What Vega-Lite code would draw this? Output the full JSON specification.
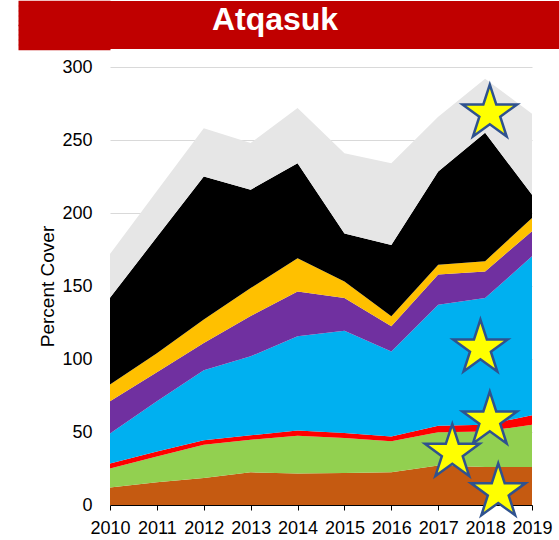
{
  "$schema": "https://vega.github.io/schema/vega-lite/v6.json",
  "padding": {"left": 15, "top": 0, "right": 0, "bottom": 0},
  "background": "white",
  "config": {"view": {"stroke": null}, "font": "Liberation Sans"},
  "spacing": 8,
  "datasets": {
    "areas": [
      {"year": 2010, "series": "Layer 1", "k": 1, "value": 12},
      {"year": 2010, "series": "Layer 2", "k": 2, "value": 13},
      {"year": 2010, "series": "Layer 3", "k": 3, "value": 3.5},
      {"year": 2010, "series": "Layer 4", "k": 4, "value": 20.5},
      {"year": 2010, "series": "Layer 5", "k": 5, "value": 22},
      {"year": 2010, "series": "Layer 6", "k": 6, "value": 11.5},
      {"year": 2010, "series": "Layer 7", "k": 7, "value": 59.5},
      {"year": 2010, "series": "Layer 8", "k": 8, "value": 30},
      {"year": 2011, "series": "Layer 1", "k": 1, "value": 15.5},
      {"year": 2011, "series": "Layer 2", "k": 2, "value": 17.8},
      {"year": 2011, "series": "Layer 3", "k": 3, "value": 3.4},
      {"year": 2011, "series": "Layer 4", "k": 4, "value": 34.3},
      {"year": 2011, "series": "Layer 5", "k": 5, "value": 20},
      {"year": 2011, "series": "Layer 6", "k": 6, "value": 13},
      {"year": 2011, "series": "Layer 7", "k": 7, "value": 79.5},
      {"year": 2011, "series": "Layer 8", "k": 8, "value": 31.5},
      {"year": 2012, "series": "Layer 1", "k": 1, "value": 18.5},
      {"year": 2012, "series": "Layer 2", "k": 2, "value": 22.8},
      {"year": 2012, "series": "Layer 3", "k": 3, "value": 3},
      {"year": 2012, "series": "Layer 4", "k": 4, "value": 48},
      {"year": 2012, "series": "Layer 5", "k": 5, "value": 18.7},
      {"year": 2012, "series": "Layer 6", "k": 6, "value": 16},
      {"year": 2012, "series": "Layer 7", "k": 7, "value": 98},
      {"year": 2012, "series": "Layer 8", "k": 8, "value": 33},
      {"year": 2013, "series": "Layer 1", "k": 1, "value": 22.4},
      {"year": 2013, "series": "Layer 2", "k": 2, "value": 22.3},
      {"year": 2013, "series": "Layer 3", "k": 3, "value": 3},
      {"year": 2013, "series": "Layer 4", "k": 4, "value": 54.1},
      {"year": 2013, "series": "Layer 5", "k": 5, "value": 27.7},
      {"year": 2013, "series": "Layer 6", "k": 6, "value": 19.1},
      {"year": 2013, "series": "Layer 7", "k": 7, "value": 67.4},
      {"year": 2013, "series": "Layer 8", "k": 8, "value": 32},
      {"year": 2014, "series": "Layer 1", "k": 1, "value": 21.5},
      {"year": 2014, "series": "Layer 2", "k": 2, "value": 26},
      {"year": 2014, "series": "Layer 3", "k": 3, "value": 3.6},
      {"year": 2014, "series": "Layer 4", "k": 4, "value": 64.4},
      {"year": 2014, "series": "Layer 5", "k": 5, "value": 30.8},
      {"year": 2014, "series": "Layer 6", "k": 6, "value": 22.7},
      {"year": 2014, "series": "Layer 7", "k": 7, "value": 65},
      {"year": 2014, "series": "Layer 8", "k": 8, "value": 38},
      {"year": 2015, "series": "Layer 1", "k": 1, "value": 21.9},
      {"year": 2015, "series": "Layer 2", "k": 2, "value": 24},
      {"year": 2015, "series": "Layer 3", "k": 3, "value": 3.4},
      {"year": 2015, "series": "Layer 4", "k": 4, "value": 70.1},
      {"year": 2015, "series": "Layer 5", "k": 5, "value": 22.4},
      {"year": 2015, "series": "Layer 6", "k": 6, "value": 11.2},
      {"year": 2015, "series": "Layer 7", "k": 7, "value": 33},
      {"year": 2015, "series": "Layer 8", "k": 8, "value": 55},
      {"year": 2016, "series": "Layer 1", "k": 1, "value": 22.4},
      {"year": 2016, "series": "Layer 2", "k": 2, "value": 21.2},
      {"year": 2016, "series": "Layer 3", "k": 3, "value": 3.4},
      {"year": 2016, "series": "Layer 4", "k": 4, "value": 58.2},
      {"year": 2016, "series": "Layer 5", "k": 5, "value": 17.2},
      {"year": 2016, "series": "Layer 6", "k": 6, "value": 6.8},
      {"year": 2016, "series": "Layer 7", "k": 7, "value": 48.8},
      {"year": 2016, "series": "Layer 8", "k": 8, "value": 56},
      {"year": 2017, "series": "Layer 1", "k": 1, "value": 27},
      {"year": 2017, "series": "Layer 2", "k": 2, "value": 22.8},
      {"year": 2017, "series": "Layer 3", "k": 3, "value": 4.5},
      {"year": 2017, "series": "Layer 4", "k": 4, "value": 82.9},
      {"year": 2017, "series": "Layer 5", "k": 5, "value": 20.6},
      {"year": 2017, "series": "Layer 6", "k": 6, "value": 6.8},
      {"year": 2017, "series": "Layer 7", "k": 7, "value": 63.9},
      {"year": 2017, "series": "Layer 8", "k": 8, "value": 37.5},
      {"year": 2018, "series": "Layer 1", "k": 1, "value": 26},
      {"year": 2018, "series": "Layer 2", "k": 2, "value": 24.4},
      {"year": 2018, "series": "Layer 3", "k": 3, "value": 4.6},
      {"year": 2018, "series": "Layer 4", "k": 4, "value": 86.8},
      {"year": 2018, "series": "Layer 5", "k": 5, "value": 18.2},
      {"year": 2018, "series": "Layer 6", "k": 6, "value": 7},
      {"year": 2018, "series": "Layer 7", "k": 7, "value": 88},
      {"year": 2018, "series": "Layer 8", "k": 8, "value": 37},
      {"year": 2019, "series": "Layer 1", "k": 1, "value": 26},
      {"year": 2019, "series": "Layer 2", "k": 2, "value": 29},
      {"year": 2019, "series": "Layer 3", "k": 3, "value": 6.4},
      {"year": 2019, "series": "Layer 4", "k": 4, "value": 108.9},
      {"year": 2019, "series": "Layer 5", "k": 5, "value": 17.2},
      {"year": 2019, "series": "Layer 6", "k": 6, "value": 9.1},
      {"year": 2019, "series": "Layer 7", "k": 7, "value": 15.9},
      {"year": 2019, "series": "Layer 8", "k": 8, "value": 55.5}
    ],
    "stars": [
      {"year": 2018.1, "value": 268.3},
      {"year": 2017.9, "value": 107.3},
      {"year": 2018.1, "value": 58},
      {"year": 2017.3, "value": 35.8},
      {"year": 2018.28, "value": 8.9}
    ],
    "heading": [{"t": "Atqasuk", "pos": 0.5}]
  },
  "vconcat": [
    {
      "width": 449,
      "height": 48,
      "data": {"name": "heading"},
      "layer": [
        {"mark": {"type": "rect", "color": "#C00000"}, "encoding": {}},
        {
          "mark": {"type": "text", "fontSize": 32, "fontWeight": "bold", "color": "#FFFFFF", "baseline": "alphabetic", "align": "center", "dx": -59.5, "dy": 5},
          "encoding": {
            "text": {"field": "t", "type": "nominal"},
            "y": {
              "field": "pos", "type": "quantitative",
              "scale": {"domain": [0, 1], "nice": false, "zero": false},
              "axis": {
                "values": [0.05, 0.15, 0.25, 0.35, 0.45, 0.55, 0.65, 0.75, 0.85, 0.95],
                "labels": false, "domain": false, "grid": false, "title": null,
                "ticks": true, "tickSize": 92, "tickWidth": 5.6, "tickColor": "#C00000", "tickCap": "butt"
              }
            }
          }
        }
      ]
    },
    {
      "width": 422,
      "height": 438,
      "layer": [
        {
          "data": {"name": "areas"},
          "mark": {"type": "area", "interpolate": "linear"},
          "encoding": {
            "x": {
              "field": "year", "type": "quantitative",
              "scale": {"domain": [2010, 2019], "nice": false, "zero": false},
              "axis": {
                "values": [2010, 2011, 2012, 2013, 2014, 2015, 2016, 2017, 2018, 2019],
                "format": "d", "grid": false, "title": null,
                "domainColor": "#000000", "tickColor": "#000000", "tickSize": 5,
                "labelFontSize": 18, "labelColor": "#000000", "labelPadding": 9,
                "labelFlush": false, "labelOverlap": false
              }
            },
            "y": {
              "field": "value", "type": "quantitative", "stack": "zero",
              "scale": {"domain": [0, 300], "nice": false},
              "axis": {
                "values": [0, 50, 100, 150, 200, 250, 300],
                "grid": true, "gridColor": "#D9D9D9",
                "domain": false, "ticks": false,
                "labelPadding": 18, "labelFontSize": 18, "labelColor": "#000000",
                "title": "Percent Cover", "titleFontSize": 19, "titleFontWeight": "normal",
                "titleColor": "#000000", "titlePadding": 0, "minExtent": 92,
                "titleX": -63, "titleBaseline": "middle"
              }
            },
            "color": {
              "field": "series", "type": "nominal",
              "scale": {
                "domain": ["Layer 1", "Layer 2", "Layer 3", "Layer 4", "Layer 5", "Layer 6", "Layer 7", "Layer 8"],
                "range": ["#C55A11", "#92D050", "#FF0000", "#00B0F0", "#7030A0", "#FFC000", "#000000", "#E6E6E6"]
              },
              "legend": null
            },
            "order": {"field": "k", "type": "quantitative"}
          }
        },
        {
          "data": {"name": "stars"},
          "mark": {"type": "point", "shape": "M0,-1L0.2245,-0.309L0.9511,-0.309L0.3633,0.118L0.5878,0.809L0,0.382L-0.5878,0.809L-0.3633,0.118L-0.9511,-0.309L-0.2245,-0.309Z", "filled": true, "fill": "#FFFF00", "stroke": "#2F528F", "strokeWidth": 2.5, "size": 3300, "opacity": 1},
          "encoding": {
            "x": {"field": "year", "type": "quantitative"},
            "y": {"field": "value", "type": "quantitative"}
          }
        }
      ]
    }
  ]
}
